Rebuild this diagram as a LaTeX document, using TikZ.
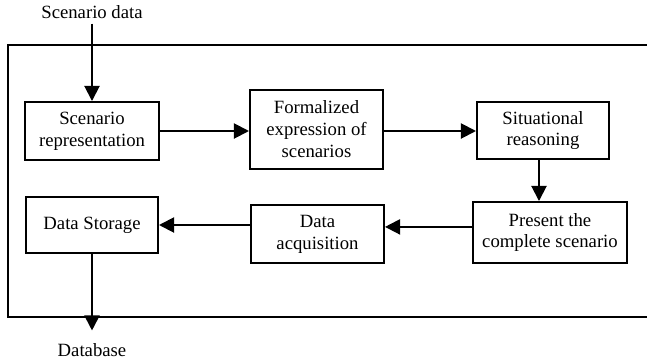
\documentclass[tikz,border=0pt]{standalone}
\usepackage{fontspec}
\setmainfont{Liberation Serif}
\usetikzlibrary{arrows.meta}
\tikzset{
  stagebox/.style={
    draw,
    line width=1.4pt,
    align=center,
    inner sep=1pt,
    font=\fontsize{13.3}{15.6}\selectfont
  },
  flowarrow/.style={
    line width=1.4pt,
    -{Triangle[length=3.8mm,width=3.8mm]}
  },
  plainlabel/.style={
    font=\fontsize{13.3}{15.6}\selectfont
  }
}

\begin{document}
\begin{tikzpicture}[x=0.025cm,y=-0.025cm]
  \useasboundingbox (0,0) rectangle (647,363);

  % outer frame, open to the right
  \draw[line width=1.4pt] (647,45) -- (8,45) -- (8,317) -- (647,317);

  \node[plainlabel] (input) at (92,12) {Scenario data};
  \node[plainlabel] (db) at (92,350) {Database};

  \node[stagebox,minimum width=3.325cm,minimum height=1.45cm] (rep) at (92,131) {Scenario\\representation};
  \node[stagebox,minimum width=3.325cm,minimum height=1.975cm] (form) at (316.5,129.5) {Formalized\\expression of\\scenarios};
  \node[stagebox,minimum width=3.3cm,minimum height=1.425cm] (reason) at (543,130.5) {Situational\\reasoning};
  \node[stagebox,minimum width=3.85cm,minimum height=1.525cm] (present) at (550,232.5) {Present the\\complete scenario};
  \node[stagebox,minimum width=3.325cm,minimum height=1.45cm] (acq) at (317.5,234) {Data\\acquisition};
  \node[stagebox,minimum width=3.3cm,minimum height=1.4cm] (store) at (92,225) {Data Storage};

  \draw[flowarrow] (input.south) -- (rep.north);
  \draw[flowarrow] (rep.east) -- (rep.east -| form.west);
  \draw[flowarrow] (rep.east -| form.east) -- (rep.east -| reason.west);
  \draw[flowarrow] ([xshift=-0.1cm]reason.south) -- ([xshift=-0.1cm]reason.south |- present.north);
  \draw[flowarrow] ([yshift=0.14cm]present.west) -- ([yshift=0.14cm]present.west -| acq.east);
  \draw[flowarrow] (store.east -| acq.west) -- (store.east);
  \draw[flowarrow,shorten >=0.2cm] (store.south) -- (db.north);
\end{tikzpicture}
\end{document}
